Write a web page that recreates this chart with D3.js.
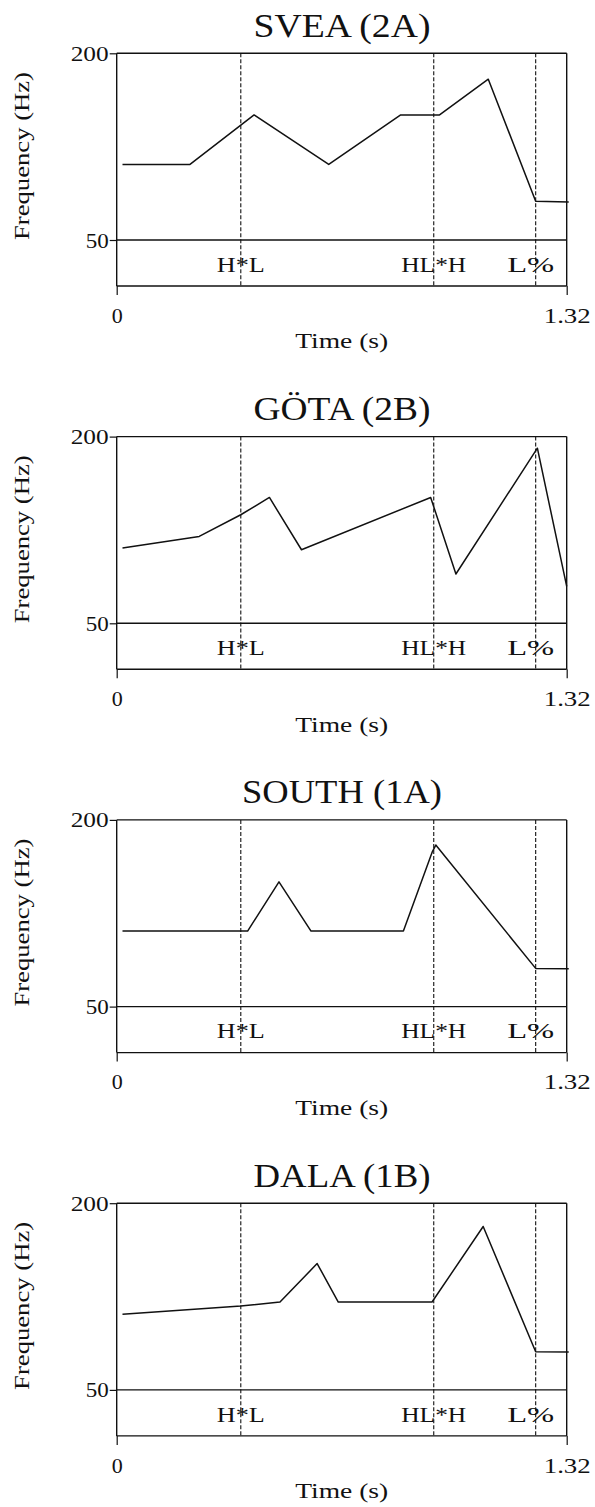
<!DOCTYPE html>
<html>
<head>
<meta charset="utf-8">
<script src="https://cdn.jsdelivr.net/npm/d3@7"></script>
<style>
  body { margin: 0; background: #fff; }
  svg text { font-family: "Liberation Serif", "Times New Roman", serif; fill: #111; }
</style>
</head>
<body>
<svg id="chart" width="595" height="1507"></svg>
<script>
// panel titles
const titles = ["SVEA (2A)", "GÖTA (2B)", "SOUTH (1A)", "DALA (1B)"];

// tone tier labels and where they sit in time (s)
const tierLabels = ["H*L", "HL*H", "L%"];
const tierTimes = [0.364, 0.93, 1.229];

// F0 contours, time (s) and frequency (Hz)
const sveaTime = [0.017, 0.215, 0.403, 0.622, 0.833, 0.947, 1.09, 1.229, 1.326];
const sveaF0 = [110.7, 110.7, 150.5, 110.7, 150.5, 150.5, 179.2, 81.2, 80.5];

const gotaTime = [0.017, 0.242, 0.364, 0.448, 0.542, 0.921, 0.995, 1.234, 1.32];
const gotaF0 = [110.5, 119.8, 137.2, 151.1, 109.1, 151.1, 89.6, 190.7, 79.7];

const southTime = [0.017, 0.384, 0.476, 0.57, 0.841, 0.925, 0.936, 1.229, 1.326];
const southF0 = [110.7, 110.7, 150.2, 110.7, 110.7, 173.9, 179.8, 80.7, 80.5];

const dalaTime = [0.017, 0.364, 0.479, 0.588, 0.65, 0.925, 1.075, 1.229, 1.326];
const dalaF0 = [110.7, 117.4, 120.6, 151.5, 120.6, 120.6, 181.3, 80.6, 80.5];

// axis ticks
const yTicks = [50, 200];
const xTicks = [0, 1.32];

const series = [
  [sveaTime, sveaF0],
  [gotaTime, gotaF0],
  [southTime, southF0],
  [dalaTime, dalaF0],
];

const svg = d3.select("#chart");

const plotH = 186.7;   // 200 Hz -> 50 Hz
const tierH = 46;      // label strip under the plot
const panelStep = 383.3;

const x = d3.scaleLinear().domain([0, 1.32]).range([116.7, 566.7]);
const y = d3.scaleLinear().domain([50, 200]).range([plotH, 0]);

const line = d3
  .line()
  .x((d) => x(d[0]))
  .y((d) => y(d[1]));

// stretched text, the scan has wide letters
const stretch = (sel, w) =>
  sel.attr("textLength", w).attr("lengthAdjust", "spacingAndGlyphs");

series.forEach(([times, f0], i) => {
  const g = svg
    .append("g")
    .attr("transform", `translate(0, ${53.3 + i * panelStep})`);

  // title
  g.append("text")
    .attr("x", 342)
    .attr("y", -16.6)
    .attr("text-anchor", "middle")
    .style("font-size", "34px")
    .text(titles[i])
    .call(stretch, i === 2 ? 200 : 177);

  // dashed boundaries for the tones
  g.append("g")
    .selectAll("line")
    .data(tierTimes)
    .enter()
    .append("line")
    .attr("x1", (d) => x(d))
    .attr("x2", (d) => x(d))
    .attr("y1", 0)
    .attr("y2", plotH + tierH)
    .attr("stroke", "#111")
    .attr("stroke-width", 1.1)
    .attr("stroke-dasharray", "4,2");

  // frame: top, 50 Hz line, bottom, sides
  const frame = g.append("g").attr("stroke", "#111").attr("stroke-width", 1.4);
  [0, plotH, plotH + tierH].forEach((yy) =>
    frame
      .append("line")
      .attr("x1", x(0))
      .attr("x2", x(1.32))
      .attr("y1", yy)
      .attr("y2", yy)
  );
  [0, 1.32].forEach((t) =>
    frame
      .append("line")
      .attr("x1", x(t))
      .attr("x2", x(t))
      .attr("y1", 0)
      .attr("y2", plotH + tierH)
  );

  // y axis ticks
  const yAxis = g
    .append("g")
    .attr("transform", `translate(${x(0)}, 0)`)
    .call(
      d3.axisLeft(y).tickValues(yTicks).tickSize(7).tickSizeOuter(0).tickPadding(1)
    );
  yAxis.select(".domain").remove();
  yAxis.selectAll("line").attr("stroke", "#111").attr("stroke-width", 1.2);
  yAxis
    .selectAll("text")
    .style("font-size", "22px")
    .attr("fill", "#111")
    .each(function (d) {
      d3.select(this).call(stretch, d === 200 ? 38 : 23);
    });

  // x axis ticks under the tier strip
  const xAxis = g
    .append("g")
    .attr("transform", `translate(0, ${plotH + tierH})`)
    .call(
      d3.axisBottom(x).tickValues(xTicks).tickSize(9).tickSizeOuter(0).tickPadding(12)
        .tickFormat((d) => (d === 0 ? "0" : "1.32"))
    );
  xAxis.select(".domain").remove();
  xAxis.selectAll("line").attr("stroke", "#111").attr("stroke-width", 1.2);
  xAxis
    .selectAll("text")
    .style("font-size", "22px")
    .attr("fill", "#111")
    .each(function (d) {
      if (d !== 0) d3.select(this).call(stretch, 47);
    });

  // tone labels
  g.append("g")
    .selectAll("text")
    .data(tierLabels)
    .enter()
    .append("text")
    .attr("x", (d, j) => x(tierTimes[j]) - (j === 2 ? 5 : 0))
    .attr("y", plotH + 31.7)
    .attr("text-anchor", "middle")
    .style("font-size", "22px")
    .text((d) => d)
    .each(function (d, j) {
      d3.select(this).call(stretch, [48, 65, 47][j]);
    });

  // F0 contour
  g.append("path")
    .datum(d3.zip(times, f0))
    .attr("d", line)
    .attr("fill", "none")
    .attr("stroke", "#111")
    .attr("stroke-width", 1.5)
    .attr("stroke-linejoin", "round");

  // axis titles
  g.append("text")
    .attr("transform", `translate(29, 102.7) rotate(-90)`)
    .attr("text-anchor", "middle")
    .style("font-size", "22px")
    .text("Frequency (Hz)")
    .call(stretch, 168);

  g.append("text")
    .attr("x", 341.7)
    .attr("y", 295)
    .attr("text-anchor", "middle")
    .style("font-size", "22px")
    .text("Time (s)")
    .call(stretch, 93);
});
</script>
</body>
</html>
